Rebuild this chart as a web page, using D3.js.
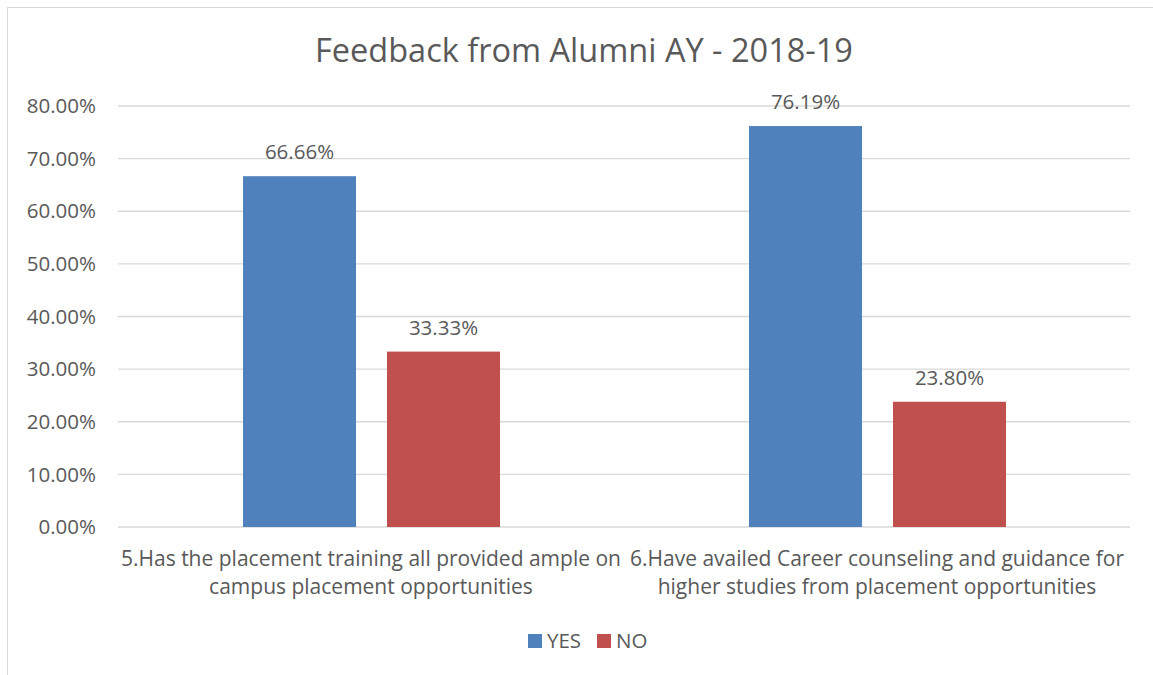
<script src="https://cdnjs.cloudflare.com/ajax/libs/d3/7.8.5/d3.min.js"></script>
<style>
  body { margin: 0; background: #fff; }
  text { font-family: "Open Sans", sans-serif; fill: #595959; }
</style>
<svg id="vis"></svg>
<script>
  var W = 1153, H = 675

  // data
  var categories = [
    ["5.Has the placement training all provided ample on", "campus placement opportunities"],
    ["6.Have availed Career counseling and guidance for", "higher studies from placement opportunities"]
  ]
  var seriesNames = ["YES", "NO"]
  var yesValues = [66.66, 76.19]
  var noValues = [33.33, 23.80]
  var yTicks = [0, 10, 20, 30, 40, 50, 60, 70, 80]
  var colors = { YES: "#4F81BD", NO: "#C0504D" }

  var svg = d3.select("#vis").attr("width", W).attr("height", H)

  // chart border (only top and left show)
  svg.append("rect")
    .attr("x", 7.5).attr("y", 7.5)
    .attr("width", W + 20).attr("height", H + 20)
    .attr("fill", "white")
    .attr("stroke", "#d9d9d9")

  var plotLeft = 118, plotRight = 1130, plotTop = 106, plotBottom = 527

  var x0 = d3.scaleBand().domain([0, 1]).range([plotLeft, plotRight]).padding(0)
  var x1 = d3.scaleBand().domain(seriesNames).range([125, 382]).paddingInner(0.215).paddingOuter(0)
  var y = d3.scaleLinear().domain([0, 80]).range([plotBottom, plotTop])

  // gridlines
  svg.append("g").selectAll("line")
    .data(yTicks).enter().append("line")
    .attr("x1", plotLeft).attr("x2", plotRight)
    .attr("y1", d => y(d)).attr("y2", d => y(d))
    .attr("stroke", "#d9d9d9").attr("stroke-width", 1.3)

  // y labels
  svg.append("g").selectAll("text")
    .data(yTicks).enter().append("text")
    .attr("x", 96).attr("y", d => y(d))
    .attr("dy", "0.35em")
    .attr("text-anchor", "end")
    .style("font-size", "20.5px")
    .text(d => d.toFixed(2) + "%")

  // bars
  var rows = categories.map((c, i) => ({ i: i, YES: yesValues[i], NO: noValues[i] }))
  var groups = svg.append("g").selectAll("g")
    .data(rows).enter().append("g")
    .attr("transform", d => "translate(" + x0(d.i) + ",0)")

  groups.selectAll("rect")
    .data(d => seriesNames.map(s => ({ s: s, v: d[s] })))
    .enter().append("rect")
    .attr("x", d => x1(d.s))
    .attr("width", x1.bandwidth())
    .attr("y", d => y(d.v))
    .attr("height", d => plotBottom - y(d.v))
    .attr("fill", d => colors[d.s])

  groups.selectAll("text.lbl")
    .data(d => seriesNames.map(s => ({ s: s, v: d[s] })))
    .enter().append("text")
    .attr("class", "lbl")
    .attr("x", d => x1(d.s) + x1.bandwidth() / 2)
    .attr("y", d => y(d.v) - 17)
    .attr("text-anchor", "middle")
    .style("font-size", "20.5px")
    .text(d => d.v.toFixed(2) + "%")

  // category labels
  var cat = svg.append("g").selectAll("text")
    .data(categories).enter().append("text")
    .attr("x", (d, i) => x0(i) + x0.bandwidth() / 2)
    .attr("y", 566)
    .attr("text-anchor", "middle")
    .style("font-size", "21px")
  cat.selectAll("tspan")
    .data(d => d).enter().append("tspan")
    .attr("x", function () { return d3.select(this.parentNode).attr("x") })
    .attr("dy", (d, i) => i === 0 ? 0 : 28)
    .text(d => d)

  // title
  svg.append("text")
    .attr("x", 584).attr("y", 62)
    .attr("text-anchor", "middle")
    .style("font-size", "32.5px")
    .text("Feedback from Alumni AY - 2018-19")

  // legend
  var legendX = [528, 597]
  var lg = svg.append("g").selectAll("g")
    .data(seriesNames).enter().append("g")
    .attr("transform", (d, i) => "translate(" + legendX[i] + ",634)")
  lg.append("rect").attr("width", 14).attr("height", 14).attr("fill", d => colors[d])
  lg.append("text").attr("x", 19).attr("y", 7).attr("dy", "0.35em")
    .style("font-size", "20.5px").text(d => d)
</script>
